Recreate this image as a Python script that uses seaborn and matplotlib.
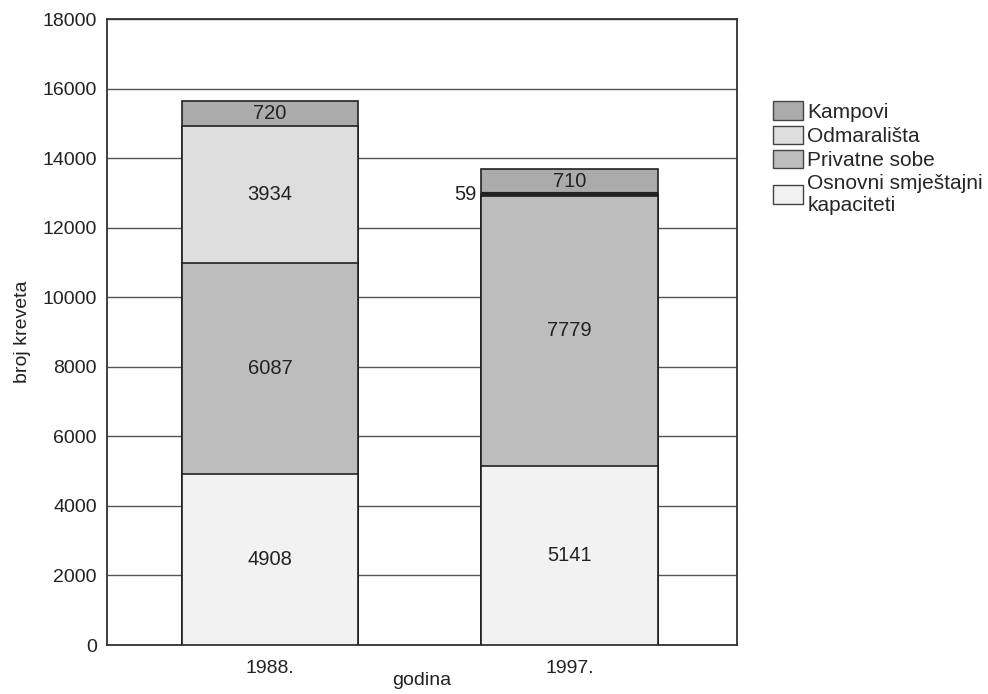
import numpy as np
import pandas as pd
import matplotlib
matplotlib.use('Agg')
import matplotlib.pyplot as plt
import seaborn as sns
from matplotlib.patches import Patch

# data
years = ['1988.', '1997.']
osnovni = [4908, 5141]
privatne = [6087, 7779]
odmaralista = [3934, 59]
kampovi = [720, 710]

layers = ['Osnovni smještajni\nkapaciteti', 'Privatne sobe', 'Odmarališta', 'Kampovi']
values = [osnovni, privatne, odmaralista, kampovi]
colors = ['#f2f2f2', '#bdbdbd', '#dedede', '#ababab']

sns.set_style('white')
plt.rcParams['font.family'] = ['Liberation Sans', 'DejaVu Sans']

fig = plt.figure(figsize=(9.88, 6.94), dpi=100)
ax = fig.add_axes([0.108, 0.0706, 0.638, 0.902])

cum = np.cumsum(np.array(values), axis=0)
# draw cumulative totals from top down so lower layers cover upper ones
for i in range(len(layers) - 1, -1, -1):
    df = pd.DataFrame({'godina': years, 'val': cum[i]})
    sns.barplot(data=df, x='godina', y='val', color=colors[i], width=0.59,
                edgecolor='#222222', linewidth=1.2, saturation=1, ax=ax, zorder=3)

# thin 59 segment as a thick dark line
ax.hlines(cum[2][1], 1 - 0.295, 1 + 0.295, color='#222222', linewidth=3, zorder=4)

# segment labels
for j in range(len(years)):
    bottoms = np.concatenate([[0], cum[:-1, j]])
    for i in range(len(layers)):
        v = values[i][j]
        if v < 200:
            ax.text(j - 0.31, bottoms[i] + v / 2, str(v), ha='right', va='center',
                    fontsize=14.5, color='#222222', zorder=5)
        else:
            ax.text(j, bottoms[i] + v / 2, str(v), ha='center', va='center',
                    fontsize=14.5, color='#222222', zorder=5)

ax.set_ylim(0, 18000)
ax.set_xlim(-0.545, 1.56)
ax.set_yticks(range(0, 18001, 2000))
ax.yaxis.grid(True, color='#555555', linewidth=1)
ax.set_axisbelow(True)
for s in ax.spines.values():
    s.set_color('#333333')
    s.set_linewidth(1.3)
ax.tick_params(axis='y', direction='out', length=6, width=1, colors='#333333',
               labelsize=14, labelcolor='#222222', pad=1)
ax.tick_params(axis='x', length=0, labelsize=14, labelcolor='#222222', pad=11)
ax.set_ylabel('broj kreveta', fontsize=14, color='#222222', labelpad=8)
ax.set_xlabel('godina', fontsize=14, color='#222222', labelpad=-4)

handles = [Patch(facecolor=colors[i], edgecolor='#444444', label=layers[i])
           for i in range(len(layers) - 1, -1, -1)]
fig.legend(handles=handles, loc='upper left', bbox_to_anchor=(0.774, 0.866),
           frameon=False, fontsize=15, handlelength=1.45, handleheight=1.0,
           handletextpad=0.2, labelspacing=0.18, borderaxespad=0)

fig.savefig('out.png', dpi=100)
